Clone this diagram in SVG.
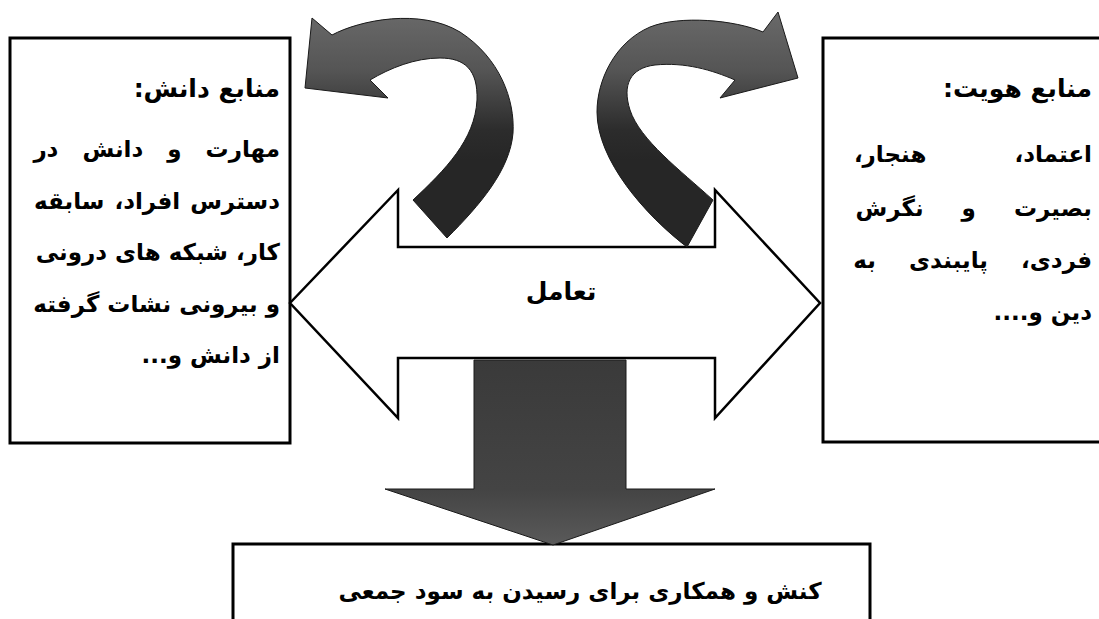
<svg xmlns="http://www.w3.org/2000/svg" width="1099" height="619" viewBox="0 0 1099 619">
<style>
.box{fill:#fff;stroke:#000;stroke-width:3}
.t{font-family:"DejaVu Sans",sans-serif;font-weight:bold;fill:#000}
.title{font-size:25px}
.body{font-size:23px}
.curveL{fill:url(#gCurve);stroke:#1a1a1a;stroke-width:1}
.dbl{fill:#fff;stroke:#000;stroke-width:2.5;stroke-linejoin:miter}
</style>
<defs>
<linearGradient id="gCurve" gradientUnits="userSpaceOnUse" x1="0" y1="10" x2="0" y2="160">
<stop offset="0" stop-color="#6a6a6a"/>
<stop offset="0.4" stop-color="#555"/>
<stop offset="0.8" stop-color="#2c2c2c"/>
<stop offset="1" stop-color="#262626"/>
</linearGradient>
<linearGradient id="gDown" gradientUnits="userSpaceOnUse" x1="0" y1="360" x2="0" y2="545">
<stop offset="0" stop-color="#3a3a3a"/>
<stop offset="0.7" stop-color="#444"/>
<stop offset="1" stop-color="#5a5a5a"/>
</linearGradient>
</defs>
<rect width="1099" height="619" fill="#fff"/>
<g id="knowledge">
<rect class="box" x="10" y="38" width="280" height="405"/>
<text class="t title" x="280" y="97" direction="rtl" text-anchor="start">منابع دانش:</text>
<text class="t body" x="280" y="157" direction="rtl" text-anchor="start" word-spacing="16">مهارت و دانش در</text>
<text class="t body" x="280" y="209" direction="rtl" text-anchor="start" word-spacing="2">دسترس افراد، سابقه</text>
<text class="t body" x="280" y="260" direction="rtl" text-anchor="start">کار، شبکه های درونی</text>
<text class="t body" x="280" y="312" direction="rtl" text-anchor="start">و بیرونی نشات گرفته</text>
<text class="t body" x="280" y="363" direction="rtl" text-anchor="start">از دانش و...</text>
</g>
<g id="identity">
<rect class="box" x="823" y="38" width="290" height="404"/>
<text class="t title" x="1092" y="97" direction="rtl" text-anchor="start">منابع هویت:</text>
<text class="t body" x="1092" y="162" direction="rtl" text-anchor="start" word-spacing="80">اعتماد، هنجار،</text>
<text class="t body" x="1092" y="216" direction="rtl" text-anchor="start" word-spacing="30">بصیرت و نگرش</text>
<text class="t body" x="1092" y="268" direction="rtl" text-anchor="start" word-spacing="25">فردی، پایبندی به</text>
<text class="t body" x="1092" y="320" direction="rtl" text-anchor="start">دین و....</text>
</g>
<g id="interaction">
<polygon class="dbl" points="290,303 398,190 398,247 715,247 715,190 820,303 715,418 715,358 398,358 398,418"/>
<text class="t" x="561" y="300" font-size="25" text-anchor="middle" direction="rtl">تعامل</text>
</g>
<g id="action">
<rect class="box" x="233" y="544" width="637" height="100"/>
<text class="t" x="580" y="599" font-size="23" text-anchor="middle" direction="rtl">کنش و همکاری برای رسیدن به سود جمعی</text>
</g>
<g id="connectors">
<path class="curveL" d="M305,88 L312,18 L332,35 C360,20 420,8 460,32 C500,58 515,100 513,133 C510,170 480,205 447,238 L413,200 C445,170 475,140 477,100 C478,70 465,58 440,58 C415,58 390,68 370,80 L388,98 Z"/>
<path class="curveL" d="M798,78 L778,12 L763,32 C735,20 680,15 650,27 C615,42 597,80 597,112 C597,160 645,215 687,247 L713,200 C680,170 640,140 630,110 C622,85 630,68 655,65 C685,62 712,70 735,80 L720,98 Z"/>
<path d="M474,360 L626,360 L626,489 L715,489 L553,545 L385,489 L474,489 Z" fill="url(#gDown)" stroke="#1a1a1a" stroke-width="1"/>
</g>
</svg>
